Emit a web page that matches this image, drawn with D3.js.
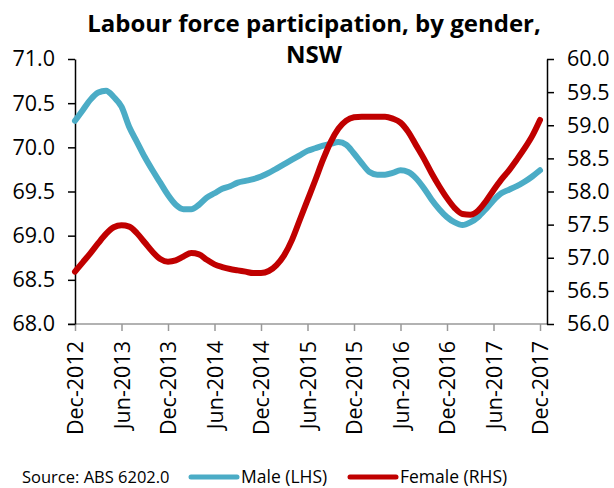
<!DOCTYPE html>
<html lang="en">
<head>
    <meta charset="UTF-8">
    <title>Labour force participation, by gender, NSW</title>
    <script src="https://cdn.jsdelivr.net/npm/d3@7/dist/d3.min.js"></script>
    <style>
        body { margin: 0; background: #fff; }
        text { font-family: "Open Sans", "Noto Sans", sans-serif; fill: #000; }
    </style>
</head>
<body>
<script>

    // monthly, Dec-2012 .. Dec-2017
    var tickLabels = ["Dec-2012", "Jun-2013", "Dec-2013", "Jun-2014", "Dec-2014", "Jun-2015",
        "Dec-2015", "Jun-2016", "Dec-2016", "Jun-2017", "Dec-2017"];

    var male = [70.30, 70.42, 70.54, 70.62, 70.64, 70.57, 70.46, 70.23, 70.06, 69.89,
        69.74, 69.60, 69.46, 69.35, 69.30, 69.30, 69.35, 69.43, 69.48, 69.53,
        69.56, 69.60, 69.62, 69.64, 69.67, 69.71, 69.76, 69.81, 69.86, 69.91,
        69.96, 69.99, 70.02, 70.04, 70.06, 70.03, 69.93, 69.82, 69.72, 69.69,
        69.69, 69.71, 69.74, 69.72, 69.65, 69.54, 69.41, 69.30, 69.21, 69.15,
        69.12, 69.15, 69.21, 69.30, 69.40, 69.48, 69.52, 69.56, 69.61, 69.67,
        69.74];

    var female = [56.79, 56.93, 57.07, 57.22, 57.36, 57.46, 57.49, 57.47, 57.37, 57.23,
        57.09, 56.98, 56.94, 56.96, 57.02, 57.07, 57.05, 56.97, 56.90, 56.86,
        56.83, 56.81, 56.79, 56.77, 56.77, 56.80, 56.89, 57.04, 57.27, 57.57,
        57.87, 58.17, 58.48, 58.75, 58.95, 59.07, 59.12, 59.13, 59.13, 59.13,
        59.13, 59.10, 59.04, 58.90, 58.70, 58.50, 58.28, 58.08, 57.90, 57.75,
        57.66, 57.65, 57.71, 57.85, 58.02, 58.18, 58.32, 58.48, 58.65, 58.84,
        59.08];

    var leftTicks = [68.0, 68.5, 69.0, 69.5, 70.0, 70.5, 71.0];
    var rightTicks = [56.0, 56.5, 57.0, 57.5, 58.0, 58.5, 59.0, 59.5, 60.0];

    var width = 614, height = 488;
    var plotLeft = 75, plotRight = 547, plotTop = 59, plotBottom = 324;
    var maleColor = "#4bacc6", femaleColor = "#c00000";

    var svg = d3.select("body").append("svg")
        .attr("width", width)
        .attr("height", height);

    var x = d3.scaleLinear().domain([0, male.length - 1]).range([plotLeft, 540]);
    var yL = d3.scaleLinear().domain([68, 71]).range([plotBottom, plotTop]);
    var yR = d3.scaleLinear().domain([56, 60]).range([plotBottom, plotTop]);

    // title
    var title = svg.append("text")
        .attr("text-anchor", "middle")
        .style("font-weight", "bold")
        .style("font-size", "24px");
    title.append("tspan").attr("x", 314).attr("y", 32).text("Labour force participation, by gender,");
    title.append("tspan").attr("x", 314).attr("y", 63).text("NSW");

    // x axis
    var xAxis = svg.append("g")
        .attr("transform", "translate(0," + plotBottom + ")")
        .call(d3.axisBottom(x)
            .tickValues(d3.range(0, male.length, 6))
            .tickFormat(function(d, i) { return tickLabels[i]; })
            .tickSize(7));
    xAxis.select(".domain").remove();
    xAxis.selectAll(".tick line").attr("stroke", "#999").attr("stroke-width", 1.5);
    xAxis.selectAll(".tick text")
        .style("font-size", "21.5px")
        .attr("transform", "rotate(-90)")
        .attr("text-anchor", "end")
        .attr("x", -17)
        .attr("y", 0)
        .attr("dy", "0.35em");
    svg.append("line")
        .attr("x1", 68).attr("x2", plotRight)
        .attr("y1", plotBottom).attr("y2", plotBottom)
        .attr("stroke", "#999").attr("stroke-width", 1.5);

    // left axis
    var gL = svg.append("g")
        .attr("transform", "translate(" + plotLeft + ",0)")
        .call(d3.axisLeft(yL).tickValues(leftTicks).tickFormat(d3.format(".1f")).tickSize(7).tickSizeOuter(0));
    gL.select(".domain").attr("stroke-width", 1.5);
    gL.selectAll(".tick line").attr("stroke-width", 1.5);
    gL.selectAll(".tick text").style("font-size", "21.5px").attr("x", -20);

    // right axis
    var gR = svg.append("g")
        .attr("transform", "translate(" + plotRight + ",0)")
        .call(d3.axisRight(yR).tickValues(rightTicks).tickFormat(d3.format(".1f")).tickSize(7).tickSizeOuter(0));
    gR.select(".domain").attr("stroke-width", 1.5);
    gR.selectAll(".tick line").attr("stroke-width", 1.5);
    gR.selectAll(".tick text").style("font-size", "21.5px").attr("x", 20);

    // lines
    var lineL = d3.line()
        .x(function(d, i) { return x(i); })
        .y(function(d) { return yL(d); })
        .curve(d3.curveMonotoneX);
    var lineR = d3.line()
        .x(function(d, i) { return x(i); })
        .y(function(d) { return yR(d); })
        .curve(d3.curveMonotoneX);

    svg.append("path").datum(male)
        .attr("d", lineL)
        .attr("fill", "none")
        .attr("stroke", maleColor)
        .attr("stroke-width", 6)
        .attr("stroke-linecap", "round");
    svg.append("path").datum(female)
        .attr("d", lineR)
        .attr("fill", "none")
        .attr("stroke", femaleColor)
        .attr("stroke-width", 6)
        .attr("stroke-linecap", "round");

    // legend
    var legendY = 477;
    svg.append("text")
        .attr("x", 22).attr("y", legendY)
        .attr("dy", "0.35em")
        .style("font-size", "16.5px")
        .text("Source: ABS 6202.0");

    var items = [
        {label: "Male (LHS)", color: maleColor, x: 191},
        {label: "Female (RHS)", color: femaleColor, x: 350}
    ];
    var lg = svg.selectAll(".legend").data(items).enter().append("g")
        .attr("class", "legend")
        .attr("transform", function(d) { return "translate(" + d.x + "," + legendY + ")"; });
    lg.append("line")
        .attr("x1", 0).attr("x2", 46)
        .attr("stroke", function(d) { return d.color; })
        .attr("stroke-width", 5)
        .attr("stroke-linecap", "round");
    lg.append("text")
        .attr("x", 50)
        .attr("dy", "0.35em")
        .style("font-size", "17.5px")
        .text(function(d) { return d.label; });

</script>
</body>
</html>
